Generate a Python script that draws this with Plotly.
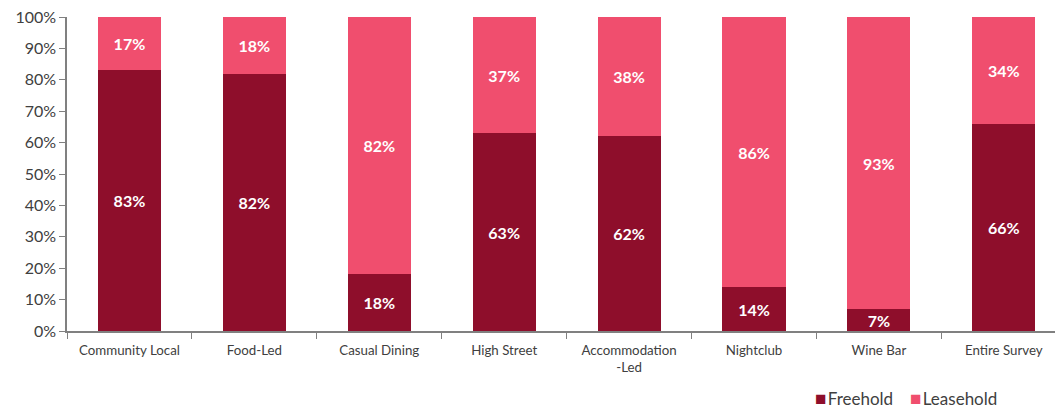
import plotly.graph_objects as go

categories = ["Community Local", "Food-Led", "Casual Dining", "High Street",
              "Accommodation<br>-Led", "Nightclub", "Wine Bar", "Entire Survey"]
freehold = [83, 82, 18, 63, 62, 14, 7, 66]
leasehold = [17, 18, 82, 37, 38, 86, 93, 34]

dark = "#8E0E2B"
light = "#F04E6E"
series = [("Freehold", freehold, dark), ("Leasehold", leasehold, light)]

fig = go.Figure()
for name, vals, col in series:
    fig.add_trace(go.Bar(
        x=categories, y=vals, name=name,
        marker=dict(color=col, line=dict(width=0)),
        width=0.505,
        text=[f"{v}%" for v in vals], textposition="inside",
        insidetextanchor="middle",
        textfont=dict(color="white", size=16, family="Lato", weight="bold"),
        constraintext="none",
    ))

# Compact legend drawn as coloured squares followed by series names
legend_x = [0.7555, 0.8515]
for (name, _, col), lx in zip(series, legend_x):
    fig.add_annotation(
        xref="paper", yref="paper", x=lx, y=-0.212, xanchor="left", yanchor="middle",
        text=f"<span style='color:{col};font-size:19px'>■</span><span style='font-size:5px'> </span>{name}",
        showarrow=False, font=dict(size=17, color="#404040", family="Lato"),
    )

fig.update_layout(
    barmode="stack",
    width=1055, height=408,
    margin=dict(l=67, r=0, t=17, b=77, autoexpand=False),
    plot_bgcolor="white", paper_bgcolor="white",
    font=dict(family="Lato", color="#404040"),
    showlegend=False,
)
fig.update_xaxes(
    type="category", range=[-0.5, 7.41], automargin=False,
    showline=True, linecolor="#808080", linewidth=1.5,
    ticks="outside", tickson="boundaries", ticklen=6, tickcolor="#808080",
    ticklabelstandoff=6,
    tickfont=dict(size=13.3, color="#404040"),
)
fig.update_yaxes(
    range=[0, 100], dtick=10, ticksuffix="%", automargin=False,
    showline=True, linecolor="#808080", linewidth=1.5,
    ticks="outside", ticklen=6, tickcolor="#808080",
    showgrid=False, zeroline=False,
    tickfont=dict(size=16, color="#404040"),
)

fig.write_html("out.html")
